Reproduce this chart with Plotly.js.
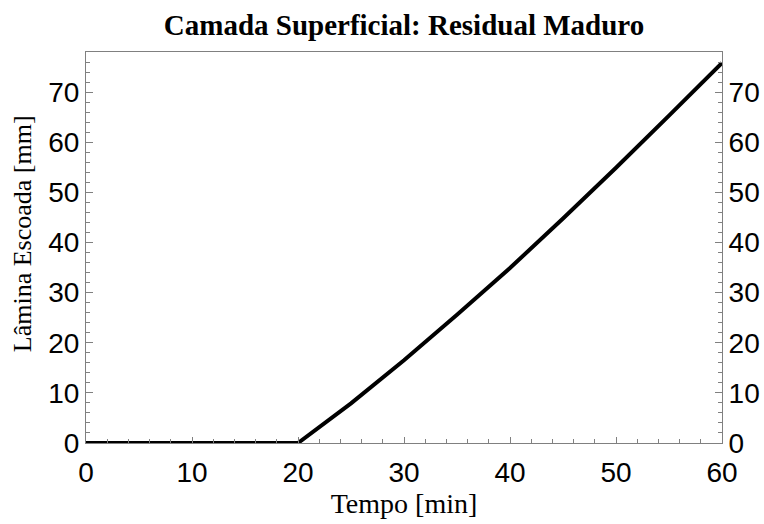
<!DOCTYPE html>
<html>
<head>
<meta charset="utf-8">
<script src="https://cdn.plot.ly/plotly-3.0.1.min.js"></script>
<style>
  html, body { margin: 0; padding: 0; background: #fff; }
  #chart { width: 764px; height: 524px; }
</style>
</head>
<body>
<div id="chart"></div>
<script>
// tempo [min] and lamina escoada [mm]
const tempo = [0, 10, 20, 25, 30, 35, 40, 45, 50, 55, 60]
const lamina = [0, 0, 0, 7.9, 16.5, 25.6, 34.9, 44.8, 54.9, 65.3, 75.8]

const yRange = [0, 78]
const frameColor = '#808080'
const tickFont = { family: 'Liberation Sans, Arial, sans-serif', size: 28, color: '#000' }
const serif = 'Liberation Serif, Times New Roman, serif'

const trace0 = {
    mode: 'lines',
    x: tempo,
    y: lamina,
    line: { width: 4, color: 'black' },
    hoverinfo: 'skip',
}

// invisible copy so the right axis has something to hang on
const trace1 = {
    mode: 'lines',
    x: tempo,
    y: lamina,
    yaxis: 'y2',
    line: { width: 0, color: 'rgba(0,0,0,0)' },
    hoverinfo: 'skip',
}

const yCommon = {
    range: yRange,
    dtick: 10,
    tick0: 0,
    ticks: 'inside',
    ticklen: 7,
    tickwidth: 1,
    tickcolor: frameColor,
    minor: { ticks: 'inside', dtick: 2, ticklen: 4, tickcolor: frameColor },
    showline: true,
    linecolor: frameColor,
    linewidth: 1,
    showgrid: false,
    zeroline: false,
    tickfont: tickFont,
    fixedrange: true,
}

const layout = {
    width: 764,
    height: 524,
    showlegend: false,
    paper_bgcolor: 'white',
    plot_bgcolor: 'white',
    margin: { l: 86, r: 42, t: 52, b: 81 },
    title: {
        text: '<b>Camada Superficial: Residual Maduro</b>',
        font: { family: serif, size: 29, color: '#000' },
        x: 0.5,
        xanchor: 'center',
        xref: 'paper',
        y: 0.952,
        yref: 'container',
        yanchor: 'middle',
    },
    xaxis: {
        range: [0, 60],
        dtick: 10,
        tick0: 0,
        ticks: 'inside',
        ticklen: 6,
        tickwidth: 1,
        tickcolor: frameColor,
        minor: { ticks: 'inside', dtick: 2, ticklen: 4, tickcolor: frameColor },
        showline: true,
        mirror: true,
        linecolor: frameColor,
        linewidth: 1,
        showgrid: false,
        zeroline: false,
        tickfont: tickFont,
        ticklabelstandoff: 4,
        fixedrange: true,
        title: {
            text: 'Tempo [min]',
            font: { family: serif, size: 28, color: '#000' },
            standoff: 5,
        },
    },
    yaxis: Object.assign({}, yCommon, { side: 'left' }),
    yaxis2: Object.assign({}, yCommon, {
        side: 'right',
        overlaying: 'y',
        anchor: 'x',
    }),
    annotations: [{
        text: 'Lâmina Escoada [mm]',
        font: { family: serif, size: 26, color: '#000' },
        textangle: -90,
        showarrow: false,
        xref: 'paper',
        yref: 'paper',
        x: -0.1,
        y: 0.535,
        xanchor: 'center',
        yanchor: 'middle',
    }],
}

Plotly.newPlot('chart', [trace0, trace1], layout, { displayModeBar: false, staticPlot: true })
</script>
</body>
</html>
